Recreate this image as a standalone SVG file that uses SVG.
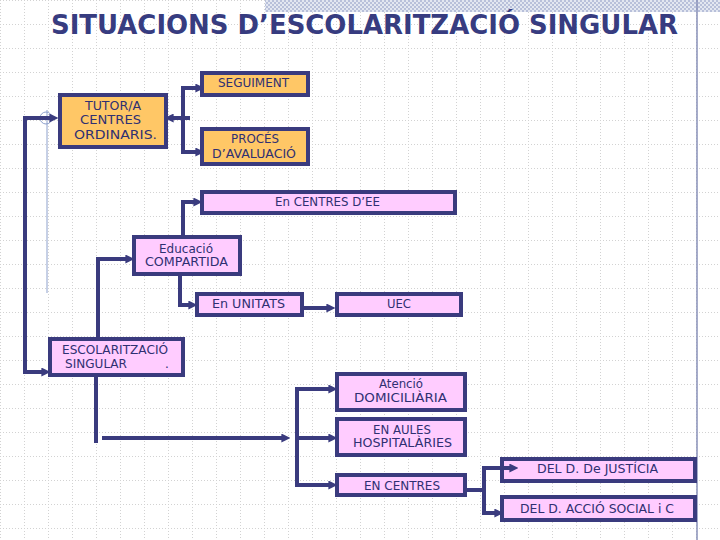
<svg xmlns="http://www.w3.org/2000/svg" width="720" height="540" viewBox="0 0 720 540">
<defs>
<pattern id="grid" width="24" height="24" patternUnits="userSpaceOnUse">
<path d="M0 0.5 H24 M0.5 0 V24" stroke="#d2d2d2" stroke-width="1" stroke-dasharray="1 2" fill="none"/>
</pattern>
<pattern id="hatch" width="4" height="4" patternUnits="userSpaceOnUse">
<rect width="4" height="4" fill="#e3e7f1"/>
<rect width="2" height="2" fill="#b8c0da"/>
<rect x="2" y="2" width="2" height="2" fill="#b8c0da"/>
</pattern>
<marker id="ah" viewBox="0 0 10 10" refX="4" refY="5" markerWidth="9" markerHeight="9" orient="auto-start-reverse" markerUnits="userSpaceOnUse">
<path d="M0 0 L10 5 L0 10 Z" fill="#3a3b7e"/>
</marker>
</defs>
<style>
.box{stroke:#3a3b7e;stroke-width:4}
.or{fill:#ffc766}
.pk{fill:#ffccff}
.t{font-family:"DejaVu Sans","Liberation Sans",sans-serif;font-size:12px;fill:#2f3072}
.c{fill:none;stroke:#3a3b7e;stroke-width:4;stroke-linejoin:miter}
.a{marker-end:url(#ah)}
.ab{marker-start:url(#ah);marker-end:url(#ah)}
</style>
<rect width="720" height="540" fill="#ffffff"/>
<rect width="720" height="540" fill="url(#grid)"/>
<rect x="265" y="0" width="455" height="12" fill="url(#hatch)"/>
<line x1="697" y1="0" x2="697" y2="540" stroke="#8890b8" stroke-width="1.5"/>
<g id="deco" fill="none" stroke="#8da0cc" stroke-width="1">
<line x1="47" y1="110" x2="47" y2="293"/>
<circle cx="46" cy="118" r="6"/>
<line x1="38" y1="118" x2="54" y2="118"/>
</g>
<text x="51" y="34" font-family="DejaVu Sans,Verdana,sans-serif" font-weight="bold" font-size="26" fill="#373c80" textLength="627" lengthAdjust="spacingAndGlyphs">SITUACIONS D’ESCOLARITZACIÓ SINGULAR</text>

<g id="seguiment"><rect class="box or" x="202" y="73" width="106" height="22"/><text class="t" x="218" y="87" textLength="71" lengthAdjust="spacingAndGlyphs">SEGUIMENT</text></g>
<g id="tutor"><rect class="box or" x="60" y="95" width="106" height="52"/>
<text class="t" x="85" y="110" textLength="56" lengthAdjust="spacingAndGlyphs">TUTOR/A</text>
<text class="t" x="80" y="124" textLength="61" lengthAdjust="spacingAndGlyphs">CENTRES</text>
<text class="t" x="74" y="139" textLength="83" lengthAdjust="spacingAndGlyphs">ORDINARIS.</text></g>
<g id="proces"><rect class="box or" x="202" y="129" width="106" height="35"/>
<text class="t" x="231" y="143" textLength="48" lengthAdjust="spacingAndGlyphs">PROCÉS</text>
<text class="t" x="212" y="158" textLength="84" lengthAdjust="spacingAndGlyphs">D’AVALUACIÓ</text></g>
<g id="centres-ee"><rect class="box pk" x="202" y="192" width="253" height="21"/>
<text class="t" x="275" y="206" textLength="105" lengthAdjust="spacingAndGlyphs">En CENTRES D’EE</text></g>
<g id="compartida"><rect class="box pk" x="134" y="237" width="106" height="37"/>
<text class="t" x="159" y="253" textLength="54" lengthAdjust="spacingAndGlyphs">Educació</text>
<text class="t" x="145" y="266" textLength="83" lengthAdjust="spacingAndGlyphs">COMPARTIDA</text></g>
<g id="unitats"><rect class="box pk" x="197" y="294" width="105" height="21"/>
<text class="t" x="212" y="308" textLength="73" lengthAdjust="spacingAndGlyphs">En UNITATS</text></g>
<g id="uec"><rect class="box pk" x="337" y="294" width="124" height="21"/>
<text class="t" x="387" y="308" textLength="24" lengthAdjust="spacingAndGlyphs">UEC</text></g>
<g id="escolaritzacio"><rect class="box pk" x="50" y="339" width="133" height="36"/>
<text class="t" x="62" y="354" textLength="106" lengthAdjust="spacingAndGlyphs">ESCOLARITZACIÓ</text>
<text class="t"><tspan x="65" y="368" textLength="62" lengthAdjust="spacingAndGlyphs">SINGULAR</tspan><tspan x="165" y="368">.</tspan></text></g>
<g id="domiciliaria"><rect class="box pk" x="337" y="374" width="128" height="36"/>
<text class="t" x="379" y="388" textLength="44" lengthAdjust="spacingAndGlyphs">Atenció</text>
<text class="t" x="354" y="402" textLength="93" lengthAdjust="spacingAndGlyphs">DOMICILIÀRIA</text></g>
<g id="aules"><rect class="box pk" x="337" y="419" width="128" height="36"/>
<text class="t" x="373" y="434" textLength="58" lengthAdjust="spacingAndGlyphs">EN AULES</text>
<text class="t" x="353" y="447" textLength="99" lengthAdjust="spacingAndGlyphs">HOSPITALÀRIES</text></g>
<g id="en-centres"><rect class="box pk" x="337" y="475" width="128" height="20"/>
<text class="t" x="364" y="490" textLength="76" lengthAdjust="spacingAndGlyphs">EN CENTRES</text></g>
<g id="justicia"><rect class="box pk" x="502" y="459" width="193" height="22"/>
<text class="t" x="537" y="473" textLength="121" lengthAdjust="spacingAndGlyphs">DEL D. De JUSTÍCIA</text></g>
<g id="accio"><rect class="box pk" x="502" y="497" width="193" height="23"/>
<text class="t" x="520" y="513" textLength="154" lengthAdjust="spacingAndGlyphs">DEL D. ACCIÓ SOCIAL  i C</text></g>

<g id="connectors">
<path class="c a" d="M190 118 H170"/>
<path class="c ab" d="M199 88 H183 V152 H199"/>
<path class="c ab" d="M53 118 H25 V372 H45"/>
<path class="c a" d="M183 237 V202 H197"/>
<path class="c a" d="M180 274 V305 H192"/>
<path class="c a" d="M302 308 H330"/>
<path class="c a" d="M98 339 V259 H129"/>
<path class="c" d="M96 375 V443"/>
<path class="c a" d="M102 438 H285"/>
<path class="c ab" d="M332 389 H297 V485 H332"/>
<path class="c a" d="M297 438 H332"/>
<path class="c" d="M465 490 H484"/>
<path class="c ab" d="M513 468 H484 V513 H498"/>
</g>
</svg>
